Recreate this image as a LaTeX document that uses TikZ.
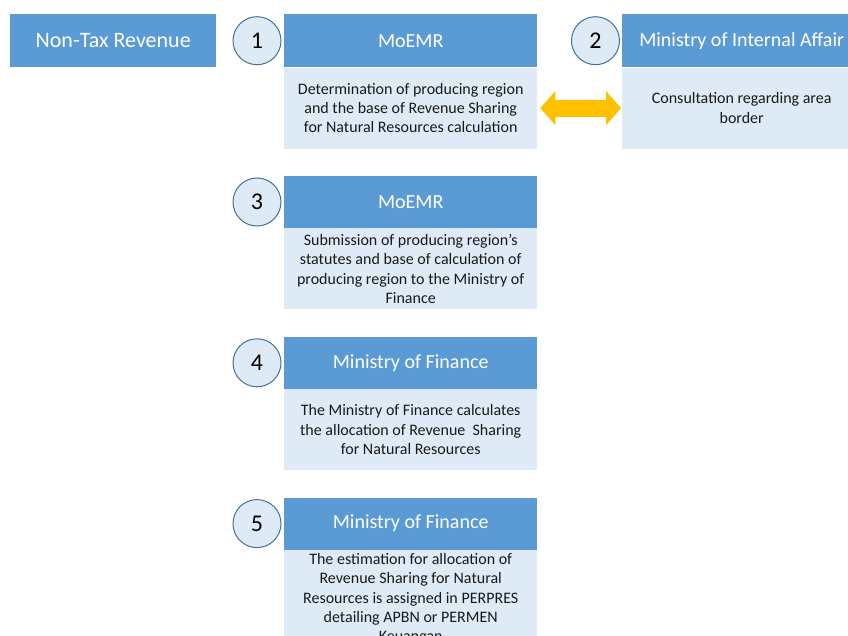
\documentclass[tikz,border=0pt]{standalone}
\usepackage{fontspec}
\setmainfont{Carlito}
\usetikzlibrary{positioning,arrows.meta}
\definecolor{headblue}{HTML}{5B9BD5}
\definecolor{bodyblue}{HTML}{DEEBF7}
\definecolor{ringblue}{HTML}{41719C}
\definecolor{arrowgold}{HTML}{FFC000}
\begin{document}
\begin{tikzpicture}[x=1pt, y=-1pt,
  head/.style={rectangle, fill=headblue, text=white, minimum width=253pt, minimum height=52pt, inner sep=0pt, font=\fontsize{20}{24}\selectfont},
  body/.style={rectangle, fill=bodyblue, text=black!90, minimum width=253pt, minimum height=81pt, inner sep=0pt, align=center, font=\fontsize{16}{19.2}\selectfont},
  stepnum/.style={circle, draw=ringblue, fill=bodyblue, line width=1pt, minimum size=48pt, inner sep=0pt, font=\fontsize{24}{28}\selectfont},
  node distance=27pt
]
\useasboundingbox (0,0) rectangle (848,636);

% Title
\node (ntr) [head, anchor=north west, minimum width=206pt, minimum height=53pt, font=\fontsize{22}{26}\selectfont] at (10,14) {Non-Tax Revenue};

% Step 1 and 2
\node (h1) [head, anchor=north west, minimum height=53pt] at (284,14) {MoEMR};
\node (b1) [body, below=0pt of h1] {Determination of producing region\\and the base of Revenue Sharing\\for Natural Resources calculation};
\node (n1) [stepnum, left=2.5pt of h1] {1};

\node (h2) [head, anchor=north west, minimum width=239pt, minimum height=53pt] at (622,14) {Ministry of Internal Affair};
\node (b2) [body, below=0pt of h2, minimum width=239pt] {Consultation regarding area\\border};
\node (n2) [stepnum, left=2pt of h2] {2};

% Steps 3 to 5
\node (h3) [head, below=of b1] {MoEMR};
\node (b3) [body, below=0pt of h3] {Submission of producing region’s\\statutes and base of calculation of\\producing region to the Ministry of\\Finance};
\node (n3) [stepnum, left=2.5pt of h3] {3};

\node (h4) [head, below=of b3] {Ministry of Finance};
\node (b4) [body, below=0pt of h4] {The Ministry of Finance calculates\\the allocation of Revenue \ Sharing\\for Natural Resources};
\node (n4) [stepnum, left=2.5pt of h4] {4};

\node (h5) [head, below=of b4] {Ministry of Finance};
\node (b5) [body, below=0pt of h5, minimum height=98pt] {The estimation for allocation of\\Revenue Sharing for Natural\\Resources is assigned in PERPRES\\detailing APBN or PERMEN\\Keuangan};
\node (n5) [stepnum, left=2.5pt of h5] {5};

% Consultation
\draw[arrowgold, line width=17pt, {Triangle[length=15pt, width=34pt, line width=0.1pt]}-{Triangle[length=15pt, width=34pt, line width=0.1pt]}, shorten <=3pt, shorten >=1pt] (b1) -- (b2);

\end{tikzpicture}
\end{document}
